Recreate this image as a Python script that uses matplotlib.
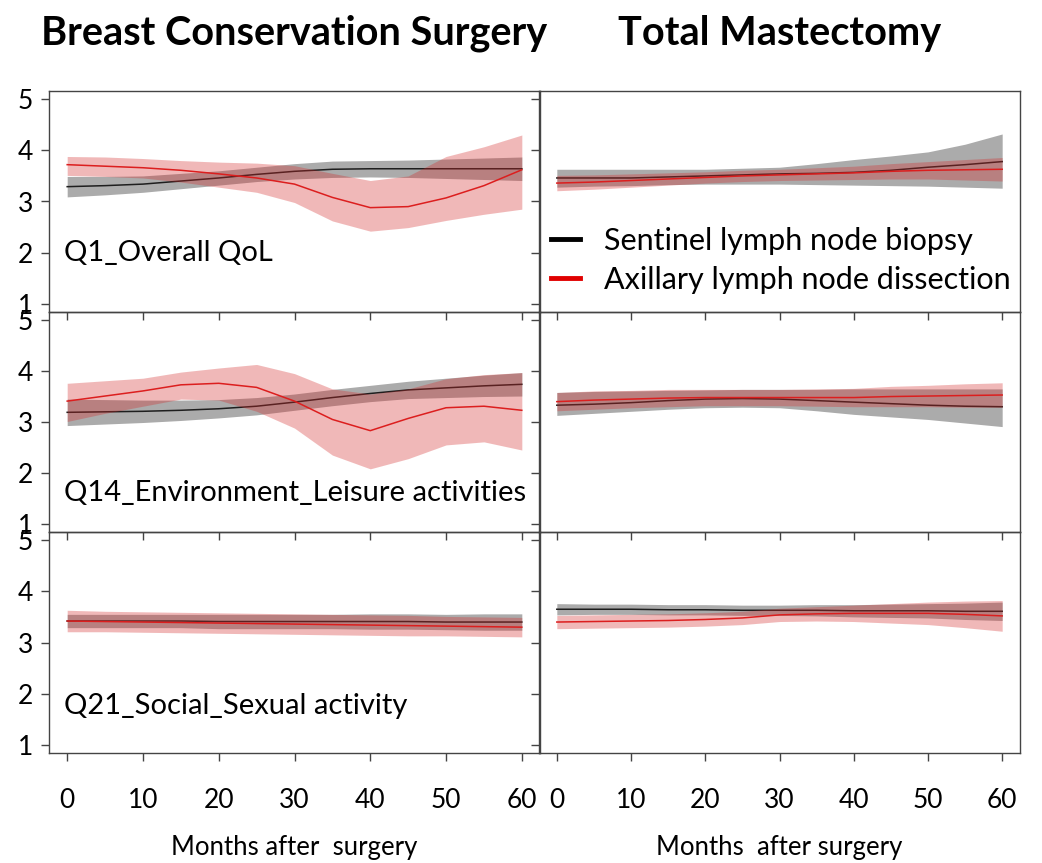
import matplotlib.pyplot as plt
from matplotlib.lines import Line2D
import numpy as np

plt.rcParams['font.family'] = ['Lato', 'DejaVu Sans']

months = [0, 5, 10, 15, 20, 25, 30, 35, 40, 45, 50, 55, 60]

# Breast conservation surgery
bcs_q1_slnb = [3.29, 3.31, 3.34, 3.40, 3.46, 3.53, 3.59, 3.63, 3.64, 3.64, 3.64, 3.64, 3.64]
bcs_q1_slnb_lo = [3.09, 3.13, 3.18, 3.25, 3.32, 3.39, 3.44, 3.47, 3.48, 3.47, 3.45, 3.43, 3.41]
bcs_q1_slnb_hi = [3.49, 3.49, 3.50, 3.55, 3.60, 3.67, 3.74, 3.79, 3.80, 3.81, 3.83, 3.85, 3.87]
bcs_q1_alnd = [3.72, 3.69, 3.66, 3.61, 3.54, 3.46, 3.34, 3.08, 2.88, 2.90, 3.07, 3.31, 3.62]
bcs_q1_alnd_lo = [3.51, 3.49, 3.46, 3.38, 3.28, 3.18, 2.98, 2.62, 2.42, 2.49, 2.63, 2.75, 2.85]
bcs_q1_alnd_hi = [3.88, 3.87, 3.84, 3.80, 3.77, 3.75, 3.70, 3.55, 3.41, 3.50, 3.88, 4.07, 4.30]

bcs_q14_slnb = [3.19, 3.20, 3.21, 3.23, 3.26, 3.31, 3.39, 3.48, 3.56, 3.63, 3.67, 3.71, 3.74]
bcs_q14_slnb_lo = [2.93, 2.96, 2.99, 3.03, 3.08, 3.14, 3.23, 3.32, 3.40, 3.46, 3.48, 3.50, 3.51]
bcs_q14_slnb_hi = [3.45, 3.44, 3.43, 3.43, 3.44, 3.48, 3.55, 3.64, 3.72, 3.80, 3.86, 3.92, 3.97]
bcs_q14_alnd = [3.41, 3.51, 3.61, 3.73, 3.76, 3.68, 3.41, 3.05, 2.83, 3.07, 3.28, 3.31, 3.23]
bcs_q14_alnd_lo = [3.01, 3.17, 3.31, 3.45, 3.43, 3.21, 2.88, 2.35, 2.08, 2.28, 2.55, 2.61, 2.45]
bcs_q14_alnd_hi = [3.76, 3.81, 3.86, 3.98, 4.06, 4.13, 3.95, 3.65, 3.55, 3.65, 3.85, 3.93, 3.97]

bcs_q21_slnb = [3.42, 3.42, 3.42, 3.42, 3.41, 3.41, 3.41, 3.41, 3.41, 3.41, 3.40, 3.40, 3.40]
bcs_q21_slnb_lo = [3.29, 3.29, 3.29, 3.29, 3.27, 3.27, 3.27, 3.27, 3.26, 3.26, 3.25, 3.24, 3.24]
bcs_q21_slnb_hi = [3.55, 3.55, 3.55, 3.55, 3.55, 3.55, 3.55, 3.55, 3.56, 3.56, 3.55, 3.56, 3.56]
bcs_q21_alnd = [3.42, 3.41, 3.40, 3.39, 3.38, 3.37, 3.36, 3.35, 3.34, 3.33, 3.32, 3.31, 3.30]
bcs_q21_alnd_lo = [3.21, 3.21, 3.20, 3.19, 3.18, 3.17, 3.16, 3.15, 3.14, 3.13, 3.13, 3.12, 3.11]
bcs_q21_alnd_hi = [3.63, 3.61, 3.60, 3.59, 3.58, 3.57, 3.56, 3.55, 3.54, 3.53, 3.51, 3.50, 3.49]

# Total mastectomy
tm_q1_slnb = [3.46, 3.46, 3.46, 3.48, 3.50, 3.52, 3.54, 3.55, 3.57, 3.61, 3.67, 3.72, 3.78]
tm_q1_slnb_lo = [3.28, 3.30, 3.31, 3.33, 3.34, 3.34, 3.34, 3.33, 3.32, 3.31, 3.30, 3.28, 3.26]
tm_q1_slnb_hi = [3.63, 3.63, 3.63, 3.63, 3.63, 3.65, 3.67, 3.74, 3.82, 3.89, 3.97, 4.12, 4.32]
tm_q1_alnd = [3.36, 3.38, 3.41, 3.44, 3.47, 3.50, 3.52, 3.54, 3.56, 3.59, 3.61, 3.62, 3.63]
tm_q1_alnd_lo = [3.21, 3.24, 3.28, 3.32, 3.36, 3.39, 3.41, 3.42, 3.43, 3.44, 3.44, 3.42, 3.40]
tm_q1_alnd_hi = [3.51, 3.52, 3.54, 3.56, 3.58, 3.61, 3.63, 3.66, 3.69, 3.74, 3.78, 3.82, 3.86]

tm_q14_slnb = [3.33, 3.35, 3.38, 3.42, 3.45, 3.46, 3.45, 3.42, 3.39, 3.36, 3.33, 3.31, 3.30]
tm_q14_slnb_lo = [3.13, 3.17, 3.21, 3.25, 3.28, 3.29, 3.28, 3.22, 3.15, 3.10, 3.05, 2.98, 2.91]
tm_q14_slnb_hi = [3.58, 3.60, 3.61, 3.62, 3.63, 3.64, 3.64, 3.64, 3.65, 3.65, 3.65, 3.65, 3.65]
tm_q14_alnd = [3.40, 3.43, 3.45, 3.47, 3.48, 3.48, 3.48, 3.48, 3.48, 3.50, 3.51, 3.52, 3.53]
tm_q14_alnd_lo = [3.22, 3.25, 3.28, 3.30, 3.32, 3.32, 3.32, 3.31, 3.30, 3.30, 3.30, 3.29, 3.29]
tm_q14_alnd_hi = [3.58, 3.61, 3.62, 3.64, 3.64, 3.64, 3.64, 3.65, 3.66, 3.70, 3.72, 3.75, 3.77]

tm_q21_slnb = [3.65, 3.65, 3.65, 3.64, 3.64, 3.63, 3.63, 3.63, 3.62, 3.62, 3.62, 3.61, 3.61]
tm_q21_slnb_lo = [3.54, 3.55, 3.55, 3.54, 3.54, 3.53, 3.53, 3.52, 3.50, 3.49, 3.48, 3.45, 3.43]
tm_q21_slnb_hi = [3.76, 3.75, 3.75, 3.74, 3.74, 3.73, 3.73, 3.74, 3.74, 3.75, 3.76, 3.77, 3.79]
tm_q21_alnd = [3.40, 3.41, 3.42, 3.43, 3.45, 3.48, 3.54, 3.56, 3.57, 3.57, 3.57, 3.55, 3.52]
tm_q21_alnd_lo = [3.27, 3.28, 3.29, 3.30, 3.32, 3.35, 3.41, 3.42, 3.41, 3.38, 3.35, 3.29, 3.22]
tm_q21_alnd_hi = [3.53, 3.54, 3.55, 3.56, 3.58, 3.61, 3.67, 3.70, 3.73, 3.76, 3.79, 3.81, 3.82]

panel_labels = ['Q1_Overall QoL', 'Q14_Environment_Leisure activities', 'Q21_Social_Sexual activity']
label_y = [1.83, 1.45, 1.61]
col_titles = ['Breast Conservation Surgery', 'Total Mastectomy']
x_labels = ['Months after  surgery', 'Months  after surgery']
legend_labels = ['Sentinel lymph node biopsy', 'Axillary lymph node dissection']

panels = [
    [(bcs_q1_slnb, bcs_q1_slnb_lo, bcs_q1_slnb_hi, bcs_q1_alnd, bcs_q1_alnd_lo, bcs_q1_alnd_hi),
     (bcs_q14_slnb, bcs_q14_slnb_lo, bcs_q14_slnb_hi, bcs_q14_alnd, bcs_q14_alnd_lo, bcs_q14_alnd_hi),
     (bcs_q21_slnb, bcs_q21_slnb_lo, bcs_q21_slnb_hi, bcs_q21_alnd, bcs_q21_alnd_lo, bcs_q21_alnd_hi)],
    [(tm_q1_slnb, tm_q1_slnb_lo, tm_q1_slnb_hi, tm_q1_alnd, tm_q1_alnd_lo, tm_q1_alnd_hi),
     (tm_q14_slnb, tm_q14_slnb_lo, tm_q14_slnb_hi, tm_q14_alnd, tm_q14_alnd_lo, tm_q14_alnd_hi),
     (tm_q21_slnb, tm_q21_slnb_lo, tm_q21_slnb_hi, tm_q21_alnd, tm_q21_alnd_lo, tm_q21_alnd_hi)],
]

W, H = 1042, 863
fig = plt.figure(figsize=(W / 100, H / 100), dpi=100)

# pixel boxes (left, right) for columns, (top, bottom) for rows
col_px = [(49, 540), (539, 1020)]
row_px = [(91, 312), (312, 532), (532, 753)]

gray = '#ababab'
pink = '#d42a2a'
black = '#1e1e1e'
red = '#dc1e1e'

for c in range(2):
    for r in range(3):
        x0, x1 = col_px[c]
        y0, y1 = row_px[r]
        ax = fig.add_axes([x0 / W, (H - y1) / H, (x1 - x0) / W, (y1 - y0) / H])
        ax.set_facecolor('none')
        s, s_lo, s_hi, a, a_lo, a_hi = panels[c][r]

        # grey band + black line (SLNB), then translucent red band + red line (ALND)
        ax.fill_between(months, s_lo, s_hi, color=gray, lw=0, zorder=1)
        ax.plot(months, s, color=black, lw=1.1, zorder=2)
        ax.fill_between(months, a_lo, a_hi, color=pink, alpha=0.33, lw=0, zorder=3)
        ax.plot(months, a, color=red, lw=1.1, zorder=4)

        ax.set_xlim(-2.4, 62.4)
        ax.set_ylim(0.84, 5.16)
        ax.set_xticks(range(0, 61, 10))
        ax.set_yticks([1, 2, 3, 4, 5])
        ax.tick_params(direction='out', length=5.5, width=1, color='#444444',
                       colors='#444444', labelcolor='black')
        ax.tick_params(axis='x', pad=20, labelsize=19)
        ax.tick_params(axis='y', pad=6, labelsize=19)
        for sp in ax.spines.values():
            sp.set_color('#444444')
            sp.set_linewidth(1)
        if r < 2:
            ax.tick_params(axis='x', labelbottom=False)
        if c == 1:
            ax.tick_params(axis='y', labelleft=False)
        if c == 0:
            ax.text(-0.4, label_y[r], panel_labels[r], fontsize=21, va='baseline', ha='left')
        if c == 1 and r == 0:
            handles = [Line2D([], [], color='black', lw=3.5),
                       Line2D([], [], color='#e00000', lw=3.5)]
            ax.legend(handles, legend_labels, loc='center left', bbox_to_anchor=(0.025, 0.235),
                      frameon=False, fontsize=22, handlelength=0.95, handletextpad=0.8,
                      labelspacing=0.36, borderpad=0, borderaxespad=0)

    xc = ((col_px[c][0] + col_px[c][1]) / 2) / W
    fig.text(xc, (H - 45) / H, col_titles[c], fontsize=28.5, fontweight='bold', ha='center', va='baseline')
    fig.text(xc, (H - 855) / H, x_labels[c], fontsize=18.5, ha='center', va='baseline')

fig.savefig('out.png', dpi=100)
